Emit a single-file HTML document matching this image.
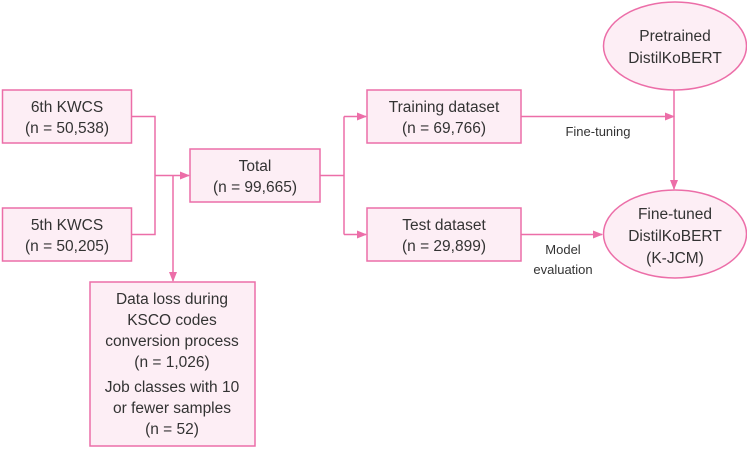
<!DOCTYPE html>
<html><head><meta charset="utf-8"><style>
html,body{margin:0;padding:0;background:#fff;}
svg{display:block;}
text{font-family:"Liberation Sans","DejaVu Sans",sans-serif;font-size:15.5px;fill:#333;text-anchor:middle;}
.s{font-size:13px;}
</style></head><body>
<svg width="747" height="449" viewBox="0 0 747 449" xmlns="http://www.w3.org/2000/svg">
<defs><marker id="a" markerWidth="10" markerHeight="8" refX="9" refY="4" orient="auto" markerUnits="userSpaceOnUse"><path d="M0,0 L10,4 L0,8 Z" fill="#ec6ea8"/></marker></defs>
<g fill="#fdeef5" stroke="#ec6ea8" stroke-width="1.5">
<rect x="2.5" y="90" width="129" height="53"/>
<rect x="2.5" y="208" width="129" height="53"/>
<rect x="190" y="149" width="130" height="53"/>
<rect x="367" y="90" width="154" height="53"/>
<rect x="367" y="208" width="154" height="53"/>
<rect x="90" y="282" width="165" height="164"/>
<ellipse cx="675" cy="46" rx="71.5" ry="44"/>
<ellipse cx="675" cy="234" rx="71.5" ry="44"/>
</g>
<g fill="none" stroke="#ec6ea8" stroke-width="1.5">
<polyline points="131.5,116.5 155,116.5 155,234.5 131.5,234.5"/>
<line x1="155" y1="175.5" x2="189" y2="175.5" marker-end="url(#a)"/>
<line x1="173" y1="175.5" x2="173" y2="281" marker-end="url(#a)"/>
<line x1="320" y1="175.5" x2="344" y2="175.5"/>
<line x1="344" y1="116.5" x2="344" y2="234.5"/>
<line x1="344" y1="116.5" x2="366" y2="116.5" marker-end="url(#a)"/>
<line x1="344" y1="234.5" x2="366" y2="234.5" marker-end="url(#a)"/>
<line x1="521" y1="116.5" x2="674" y2="116.5" marker-end="url(#a)"/>
<line x1="674" y1="90" x2="674" y2="189" marker-end="url(#a)"/>
<line x1="521" y1="234.5" x2="602" y2="234.5" marker-end="url(#a)"/>
</g>
<text x="67" y="112">6th KWCS</text><text x="67" y="133">(n = 50,538)</text>
<text x="67" y="230">5th KWCS</text><text x="67" y="251">(n = 50,205)</text>
<text x="255" y="171">Total</text><text x="255" y="192">(n = 99,665)</text>
<text x="444" y="112">Training dataset</text><text x="444" y="133">(n = 69,766)</text>
<text x="444" y="230">Test dataset</text><text x="444" y="251">(n = 29,899)</text>
<text x="675" y="41">Pretrained</text><text x="675" y="63">DistilKoBERT</text>
<text x="675" y="219">Fine-tuned</text><text x="675" y="241">DistilKoBERT</text><text x="675" y="263">(K-JCM)</text>
<text class="s" x="598" y="136">Fine-tuning</text>
<text class="s" x="563" y="254">Model</text><text class="s" x="563" y="274">evaluation</text>
<text x="172" y="304">Data loss during</text>
<text x="172" y="325">KSCO codes</text>
<text x="172" y="346">conversion process</text>
<text x="172" y="367">(n = 1,026)</text>
<text x="172" y="392">Job classes with 10</text>
<text x="172" y="413">or fewer samples</text>
<text x="172" y="434">(n = 52)</text>
</svg>
</body></html>
